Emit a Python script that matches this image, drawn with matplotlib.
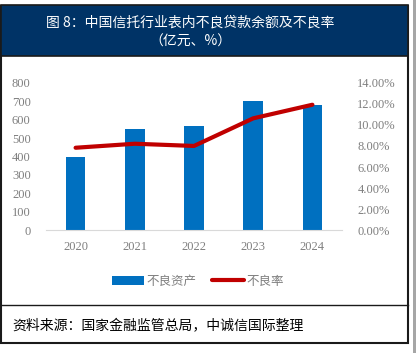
import matplotlib
matplotlib.use('Agg')
from matplotlib import pyplot as plt
from matplotlib.patches import Rectangle
from matplotlib.lines import Line2D
from matplotlib.ticker import FuncFormatter

# 数据
anos = ['2020', '2021', '2022', '2023', '2024']
ativos_ruins = [396, 549, 565, 701, 677]      # 不良资产（亿元）
taxa_ruim = [7.83, 8.21, 8.00, 10.62, 11.91]  # 不良率（%）

W, H = 417, 353
fig = plt.figure(figsize=(W / 100, H / 100), dpi=100)

cjk = ['Noto Sans CJK SC', 'DejaVu Sans']
cinza = '#7f7f7f'

def fx(px):
    return px / W

def fy(py):
    return 1 - py / H

# moldura, faixa do título e rodapé (atrás dos eixos)
fig.patches.append(Rectangle((fx(0.5), fy(342.5)), fx(408) - fx(0.5), fy(5.5) - fy(342.5),
                             transform=fig.transFigure, facecolor='white', edgecolor='#1a1a1a',
                             lw=1.5, zorder=-10))
fig.patches.append(Rectangle((fx(0.5), fy(55.5)), fx(408) - fx(0.5), fy(5.5) - fy(55.5),
                             transform=fig.transFigure, facecolor='#003366', edgecolor='#1a1a1a',
                             lw=1.2, zorder=-9))
fig.add_artist(Line2D([fx(0.5), fx(408)], [fy(305), fy(305)], transform=fig.transFigure,
                      color='#1a1a1a', lw=1.0, zorder=-9))
fig.patches.append(Rectangle((fx(413), 0), fx(3), 1, transform=fig.transFigure,
                             facecolor='#a6a6a6', edgecolor='none', zorder=-9))

fig.text(fx(190), fy(23), '图 8：中国信托行业表内不良贷款余额及不良率', color='white',
         fontsize=10, family=cjk, ha='center', va='center', weight='medium')
fig.text(fx(190), fy(42), '（亿元、%）', color='white',
         fontsize=10, family=cjk, ha='center', va='center', weight='medium')
fig.text(fx(12), fy(326), '资料来源：国家金融监管总局，中诚信国际整理', color='black',
         fontsize=10, family=cjk, ha='left', va='center')

# gráfico
ax = fig.add_axes([fx(46), fy(230.3), fx(342) - fx(46), fy(82.7) - fy(230.3)])
ax.set_facecolor('none')
x = range(len(anos))
ax.bar(x, ativos_ruins, width=0.33, color='#0070C0', label='不良资产', zorder=2)
ax.set_ylim(0, 800)
ax.set_yticks(range(0, 801, 100))
ax.set_xlim(-0.5, 4.5)
ax.set_xticks(list(x))
ax.set_xticklabels(anos)
for s in ['top', 'right', 'left']:
    ax.spines[s].set_visible(False)
ax.spines['bottom'].set_color('#d9d9d9')
ax.tick_params(axis='both', length=0, colors=cinza, labelsize=9,
               labelfontfamily='Liberation Serif')
ax.tick_params(axis='y', pad=11)
ax.tick_params(axis='x', pad=8)

ax2 = ax.twinx()
ax2.plot(x, taxa_ruim, color='#C00000', lw=3, solid_capstyle='round', label='不良率', zorder=3)
ax2.set_ylim(0, 14)
ax2.set_yticks(range(0, 15, 2))
ax2.yaxis.set_major_formatter(FuncFormatter(lambda v, p: f'{v:.2f}%'))
for s in ['top', 'right', 'left', 'bottom']:
    ax2.spines[s].set_visible(False)
ax2.tick_params(axis='y', length=0, colors=cinza, labelsize=9, pad=11,
                labelfontfamily='Liberation Serif')

h1, l1 = ax.get_legend_handles_labels()
h2, l2 = ax2.get_legend_handles_labels()
leg = fig.legend(h1 + h2, l1 + l2, loc='center', bbox_to_anchor=(fx(198), fy(281)),
                 ncol=2, frameon=False, prop={'family': cjk, 'size': 9},
                 handlelength=2.6, handletextpad=0.2, columnspacing=1.2)
for t in leg.get_texts():
    t.set_color(cinza)

fig.savefig('out.png', dpi=100)
